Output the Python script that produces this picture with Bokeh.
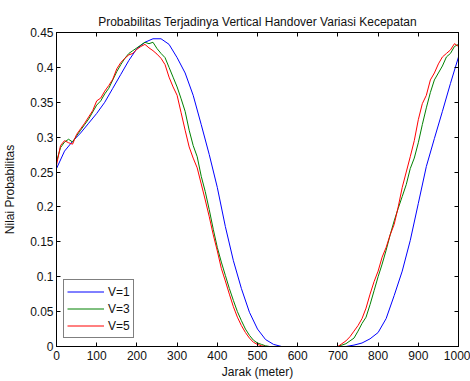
from bokeh.plotting import figure
from bokeh.models import FixedTicker, LinearAxis, Range1d
from bokeh.embed import file_html
from bokeh.resources import INLINE

# Blue V=1, 20 m spacing
x_v1 = list(range(0, 1001, 20))
p_v1 = [0.255, 0.280, 0.294, 0.306, 0.320, 0.334, 0.350, 0.370, 0.390, 0.410,
        0.427, 0.436, 0.441, 0.441, 0.433, 0.414, 0.392, 0.360, 0.318, 0.275,
        0.228, 0.172, 0.123, 0.083, 0.049, 0.025, 0.010, 0.003, 0.000, 0.000,
        0.000, 0.000, 0.000, 0.000, 0.000, 0.000, 0.000, 0.002, 0.005, 0.011,
        0.020, 0.040, 0.073, 0.108, 0.152, 0.205, 0.258, 0.298, 0.337, 0.377,
        0.415]

# Green V=3 and Red V=5, 10 m spacing
x_v35 = list(range(0, 1001, 10))
p_v3 = [0.265, 0.285, 0.293, 0.297, 0.293, 0.302, 0.310, 0.318, 0.326, 0.336,
        0.346, 0.352, 0.362, 0.370, 0.382, 0.394, 0.404, 0.413, 0.420, 0.424,
        0.428, 0.432, 0.436, 0.434, 0.436, 0.427, 0.420, 0.414, 0.400, 0.386,
        0.372, 0.355, 0.337, 0.310, 0.288, 0.272, 0.244, 0.222, 0.196, 0.168,
        0.142, 0.121, 0.102, 0.083, 0.066, 0.050, 0.037, 0.025, 0.016, 0.009,
        0.005, 0.003, 0.001, 0.000, 0.000, 0.000, 0.000, 0.000, 0.000, 0.000,
        0.000, 0.000, 0.000, 0.000, 0.000, 0.000, 0.000, 0.000, 0.000, 0.000,
        0.000, 0.002, 0.004, 0.008, 0.012, 0.022, 0.033, 0.042, 0.060, 0.080,
        0.100, 0.118, 0.138, 0.160, 0.180, 0.198, 0.215, 0.232, 0.255, 0.270,
        0.292, 0.318, 0.342, 0.364, 0.382, 0.392, 0.402, 0.415, 0.420, 0.430,
        0.433]
p_v5 = [0.260, 0.288, 0.295, 0.292, 0.290, 0.304, 0.312, 0.320, 0.329, 0.338,
        0.352, 0.356, 0.366, 0.374, 0.383, 0.398, 0.407, 0.413, 0.418, 0.420,
        0.426, 0.430, 0.433, 0.428, 0.424, 0.419, 0.413, 0.404, 0.386, 0.372,
        0.360, 0.335, 0.310, 0.286, 0.270, 0.256, 0.233, 0.210, 0.186, 0.160,
        0.137, 0.112, 0.094, 0.075, 0.057, 0.042, 0.030, 0.020, 0.012, 0.006,
        0.003, 0.001, 0.000, 0.000, 0.000, 0.000, 0.000, 0.000, 0.000, 0.000,
        0.000, 0.000, 0.000, 0.000, 0.000, 0.000, 0.000, 0.000, 0.000, 0.000,
        0.000, 0.004, 0.008, 0.014, 0.022, 0.030, 0.040, 0.055, 0.075, 0.093,
        0.108, 0.128, 0.142, 0.160, 0.175, 0.200, 0.228, 0.250, 0.272, 0.295,
        0.325, 0.348, 0.360, 0.382, 0.392, 0.405, 0.415, 0.420, 0.425, 0.434,
        0.430]

x_ticks = [0, 100, 200, 300, 400, 500, 600, 700, 800, 900, 1000]
y_ticks = [0, 0.05, 0.1, 0.15, 0.2, 0.25, 0.3, 0.35, 0.4, 0.45]
y_tick_labels = ["0", "0.05", "0.1", "0.15", "0.2", "0.25", "0.3", "0.35", "0.4", "0.45"]

FONT = "Liberation Sans"
FS = "12px"

p = figure(width=470, height=381, output_backend="svg", toolbar_location=None,
           x_range=Range1d(0, 1000), y_range=Range1d(0, 0.45),
           min_border_left=56, min_border_right=12, min_border_top=32, min_border_bottom=33,
           title="Probabilitas Terjadinya Vertical Handover Variasi Kecepatan")
p.title.align = "center"
p.title.text_font = FONT
p.title.text_font_size = FS
p.title.text_font_style = "normal"
p.title.text_color = "#111111"
p.title.standoff = 7

p.xgrid.visible = False
p.ygrid.visible = False
p.outline_line_color = "black"
p.background_fill_color = "white"

p.line(x_v1, p_v1, line_color="#0000ff", line_width=1, legend_label="V=1")
p.line(x_v35, p_v3, line_color="#008000", line_width=1, legend_label="V=3")
p.line(x_v35, p_v5, line_color="#ff0000", line_width=1, legend_label="V=5")

def style(ax):
    ax.axis_line_color = "black"
    ax.major_tick_in = 4
    ax.major_tick_out = 0
    ax.minor_tick_line_color = None
    ax.major_tick_line_color = "black"
    ax.major_label_text_font = FONT
    ax.major_label_text_font_size = FS
    ax.major_label_text_color = "#111111"
    ax.axis_label_text_font = FONT
    ax.axis_label_text_font_size = FS
    ax.axis_label_text_font_style = "normal"
    ax.axis_label_text_color = "#111111"

xa = p.xaxis[0]
xa.ticker = FixedTicker(ticks=x_ticks)
xa.axis_label = "Jarak (meter)"
style(xa)
xa.major_label_standoff = 4
xa.axis_label_standoff = 2

ya = p.yaxis[0]
ya.ticker = FixedTicker(ticks=y_ticks)
ya.major_label_overrides = {t: s for t, s in zip(y_ticks, y_tick_labels)}
ya.axis_label = "Nilai Probabilitas"
style(ya)
ya.major_label_standoff = 3
ya.axis_label_standoff = 10

top = LinearAxis(ticker=FixedTicker(ticks=x_ticks))
style(top)
top.major_label_text_font_size = "1px"
top.major_label_text_color = None
top.major_label_standoff = 0
p.add_layout(top, "above")

right = LinearAxis(ticker=FixedTicker(ticks=y_ticks))
style(right)
right.major_label_text_font_size = "1px"
right.major_label_text_color = None
right.major_label_standoff = 0
p.add_layout(right, "right")

lg = p.legend[0]
lg.location = (7, 8)
lg.border_line_color = "black"
lg.border_line_width = 1
lg.background_fill_alpha = 1
lg.label_text_font = FONT
lg.label_text_font_size = FS
lg.label_text_color = "#111111"
lg.glyph_width = 37
lg.glyph_height = 17
lg.label_height = 17
lg.label_standoff = 4
lg.spacing = 0
lg.padding = 3
lg.margin = 0

open("out.html", "w").write(file_html(p, INLINE))
